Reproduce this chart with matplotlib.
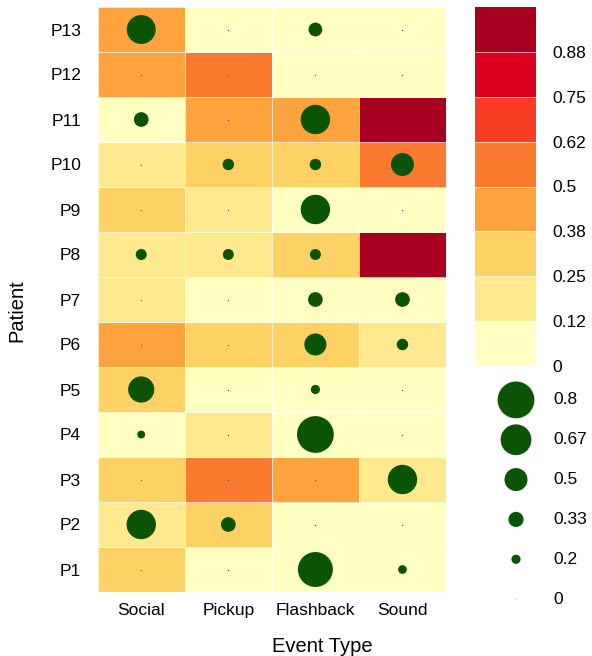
import numpy as np
import matplotlib
matplotlib.use('Agg')
import matplotlib.pyplot as plt
from matplotlib.colors import ListedColormap, BoundaryNorm

plt.rcParams['font.family'] = ['Liberation Sans', 'DejaVu Sans']

# data (rows bottom -> top: P1 .. P13)
patients = ['P%d' % i for i in range(1, 14)]
events = ['Social', 'Pickup', 'Flashback', 'Sound']

# cell fill value
fill = np.array([
    [0.33, 0.00, 0.00, 0.00],   # P1
    [0.20, 0.33, 0.00, 0.00],   # P2
    [0.33, 0.55, 0.45, 0.20],   # P3
    [0.00, 0.20, 0.00, 0.00],   # P4
    [0.33, 0.00, 0.00, 0.00],   # P5
    [0.45, 0.33, 0.33, 0.20],   # P6
    [0.20, 0.00, 0.00, 0.00],   # P7
    [0.20, 0.20, 0.33, 1.00],   # P8
    [0.33, 0.20, 0.00, 0.00],   # P9
    [0.20, 0.33, 0.33, 0.55],   # P10
    [0.00, 0.45, 0.45, 1.00],   # P11
    [0.45, 0.55, 0.00, 0.00],   # P12
    [0.45, 0.00, 0.00, 0.00],   # P13
])

# circle size value
size = np.array([
    [0.00, 0.00, 0.76, 0.19],   # P1
    [0.64, 0.32, 0.00, 0.00],   # P2
    [0.00, 0.00, 0.00, 0.64],   # P3
    [0.17, 0.00, 0.80, 0.00],   # P4
    [0.57, 0.00, 0.20, 0.00],   # P5
    [0.00, 0.00, 0.48, 0.25],   # P6
    [0.00, 0.00, 0.32, 0.32],   # P7
    [0.24, 0.24, 0.24, 0.00],   # P8
    [0.00, 0.00, 0.64, 0.00],   # P9
    [0.00, 0.25, 0.25, 0.50],   # P10
    [0.32, 0.00, 0.64, 0.00],   # P11
    [0.00, 0.00, 0.00, 0.00],   # P12
    [0.63, 0.00, 0.30, 0.00],   # P13
])

cbar_ticks = [0, 0.125, 0.25, 0.375, 0.5, 0.625, 0.75, 0.875]
cbar_labels = ['0', '0.12', '0.25', '0.38', '0.5', '0.62', '0.75', '0.88']
size_legend = [0, 0.2, 0.33, 0.5, 0.67, 0.8]
size_legend_labels = ['0', '0.2', '0.33', '0.5', '0.67', '0.8']

bin_colors = ['#ffffc2', '#fee98f', '#fed165', '#fda43e',
              '#fc7a30', '#f83c23', '#dc001f', '#a8001f']
dot_color = '#0b5305'
cmap = ListedColormap(bin_colors)
norm = BoundaryNorm(np.linspace(0, 1, 9), cmap.N)


def dot_area(v):
    # diameter grows linearly with the value
    return np.maximum((33.1 * np.asarray(v)) ** 2, 0.6)


W, H = 592, 656
fig = plt.figure(figsize=(W / 100, H / 100), dpi=100)

# main heatmap
ax = fig.add_axes([97.7 / W, 1 - 592 / H, 348.3 / W, 585 / H])
mesh = ax.pcolormesh(np.arange(len(events) + 1), np.arange(len(patients) + 1), fill,
                     cmap=cmap, norm=norm, edgecolors=(1, 1, 1, 0.7), linewidth=0.6)
xx, yy = np.meshgrid(np.arange(len(events)) + 0.5, np.arange(len(patients)) + 0.5)
zero = size.ravel() == 0
ax.scatter(xx.ravel()[~zero], yy.ravel()[~zero], s=dot_area(size.ravel()[~zero]),
           color=dot_color, linewidths=0, zorder=3)
ax.scatter(xx.ravel()[zero], yy.ravel()[zero], s=0.5, color='#333333',
           linewidths=0, zorder=3)
ax.set_xlim(0, len(events))
ax.set_ylim(0, len(patients))
ax.set_xticks(np.arange(len(events)) + 0.5)
ax.set_xticklabels(events)
ax.set_yticks(np.arange(len(patients)) + 0.5)
ax.set_yticklabels(patients)
ax.tick_params(length=0, labelsize=12.5, colors='black')
ax.tick_params(axis='y', pad=12)
ax.tick_params(axis='x', pad=8)
for s in ax.spines.values():
    s.set_visible(False)

# colour bar
cax = fig.add_axes([475 / W, 1 - 366 / H, 61 / W, 359 / H])
cb = fig.colorbar(mesh, cax=cax, ticks=cbar_ticks, drawedges=True)
cb.set_ticklabels(cbar_labels)
cb.outline.set_visible(False)
cb.dividers.set_color((1, 1, 1, 0.7))
cb.dividers.set_linewidth(0.6)
cax.minorticks_off()
cax.tick_params(which='both', length=0, pad=12, labelsize=12.5)

# size legend
lax = fig.add_axes([475 / W, 1 - 619 / H, 117 / W, 239 / H])
lax.set_xlim(0, 117)
lax.set_ylim(-0.5, len(size_legend) - 0.5)
idx = np.arange(len(size_legend))
lax.scatter(np.full(len(idx), 41), idx, s=dot_area(size_legend),
            color=[dot_color if v > 0 else '#999999' for v in size_legend], linewidths=0)
for i, lab in zip(idx, size_legend_labels):
    lax.text(78, i, lab, va='center', ha='left', fontsize=12.5)
lax.axis('off')

fig.text(322 / W, 1 - 646 / H, 'Event Type', ha='center', va='center', fontsize=14.5)
fig.text(17 / W, 1 - 311 / H, 'Patient', ha='center', va='center', rotation=90, fontsize=14.5)

fig.savefig('out.png', dpi=100)
